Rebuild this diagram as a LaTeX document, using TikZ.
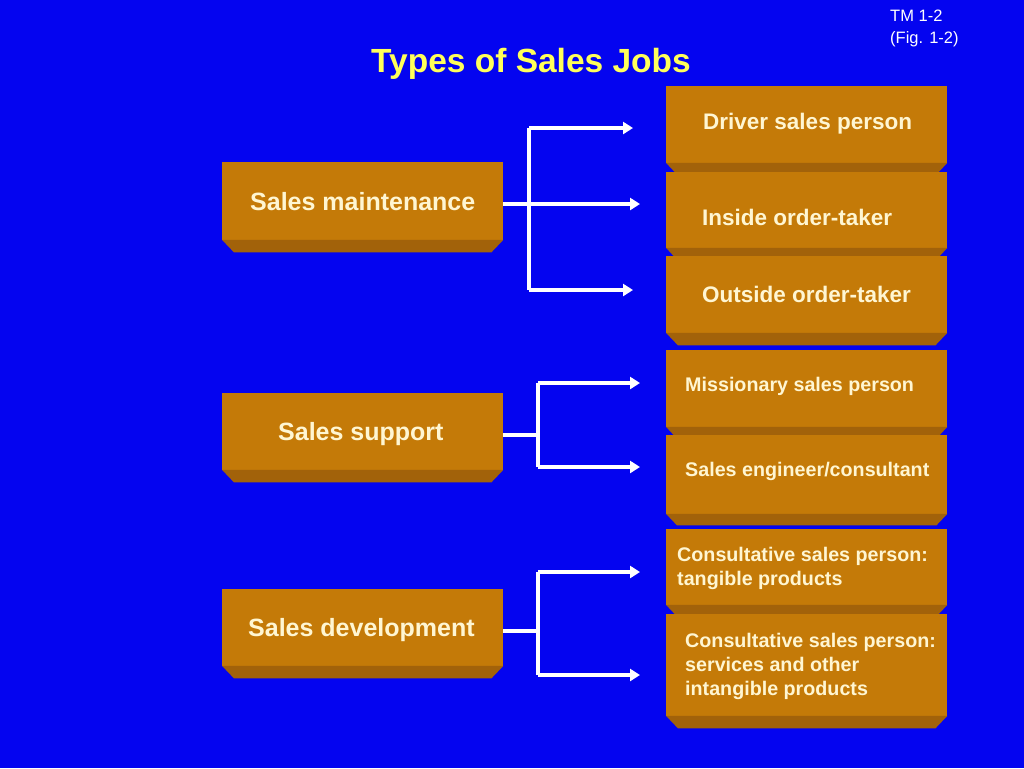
\documentclass[tikz,border=0pt]{standalone}
\usepackage{fontspec}
\setmainfont{Liberation Sans}
\usetikzlibrary{arrows.meta,calc}
\definecolor{bg}{RGB}{4,4,240}
\definecolor{face}{RGB}{196,122,8}
\definecolor{bevel}{RGB}{162,98,10}
\definecolor{ttl}{RGB}{255,255,90}
\definecolor{cream}{RGB}{255,246,210}
\tikzset{
  boxface/.style={fill=face, draw=none, inner sep=0pt, anchor=north west},
  lbl/.style={text=cream, font=\bfseries, inner sep=0pt, anchor=west, align=left},
  conn/.style={draw=white, line width=4pt},
  arr/.style={draw=white, line width=4pt, -{Triangle[length=10pt,width=12pt]}},
}
% \bbox{name}{x}{ytop}{width}{faceheight}{bevel}
\newcommand{\bbox}[6]{%
  \node[boxface, minimum width=#4pt, minimum height=#5pt] (#1) at (#2,#3) {};
  \fill[bevel] ($(#1.south west)+(0,-0.6)$) -- ($(#1.south east)+(0,-0.6)$) -- ($(#1.south east)+(-#6,#6)$) -- ($(#1.south west)+(#6,#6)$) -- cycle;
}
\begin{document}
\begin{tikzpicture}[x=1pt,y=-1pt]
\fill[bg] (0,0) rectangle (1024,768);
\useasboundingbox (0,0) rectangle (1024,768);

\node[text=white, font=\fontsize{16.5}{22}\selectfont, anchor=north west, inner sep=0pt, align=left] (tm) at (890,10) {TM 1-2\\(Fig. 1-2)};
\node[text=ttl, font=\fontsize{33.5}{40}\selectfont\bfseries, inner sep=0pt] (title) at (531,64) {Types of Sales Jobs};

% left boxes
\bbox{sm}{222}{162}{281}{78}{12}
\bbox{ss}{222}{393}{281}{77}{12}
\bbox{sd}{222}{589}{281}{77}{12}

% right boxes
\bbox{r1}{666}{86}{281}{77}{9}
\bbox{r2}{666}{172}{281}{76}{8}
\bbox{r3}{666}{256}{281}{77}{12}
\bbox{r4}{666}{350}{281}{77}{8}
\bbox{r5}{666}{435}{281}{79}{11}
\bbox{r6}{666}{529}{281}{76}{9}
\bbox{r7}{666}{614}{281}{102}{12}

% left labels
\node[lbl, font=\fontsize{25}{30}\selectfont\bfseries] (tsm) at (250,202) {Sales maintenance};
\node[lbl, font=\fontsize{25}{30}\selectfont\bfseries] (tss) at (278,434) {Sales support};
\node[lbl, font=\fontsize{25}{30}\selectfont\bfseries] (tsd) at (248,630) {Sales development};

% right labels
\node[lbl, font=\fontsize{22.5}{27}\selectfont\bfseries] (t1) at (703,124) {Driver sales person};
\node[lbl, font=\fontsize{22.5}{27}\selectfont\bfseries] (t2) at (702,217) {Inside order-taker};
\node[lbl, font=\fontsize{22.5}{27}\selectfont\bfseries] (t3) at (702,294) {Outside order-taker};
\node[lbl, font=\fontsize{19.7}{24}\selectfont\bfseries] (t4) at (685,386) {Missionary sales person};
\node[lbl, font=\fontsize{19.7}{24}\selectfont\bfseries] (t5) at (685,471) {Sales engineer/consultant};
\node[lbl, font=\fontsize{19.7}{24}\selectfont\bfseries] (t6) at (677,568) {Consultative sales person:\\tangible products};
\node[lbl, font=\fontsize{19.7}{24}\selectfont\bfseries] (t7) at (685,666) {Consultative sales person:\\services and other\\intangible products};

% connectors: maintenance
\coordinate (m1) at (529,128);
\coordinate (m3) at (529,290);
\coordinate (e1) at (633,128);
\coordinate (e2) at (640,204);
\coordinate (e3) at (633,290);
\draw[conn] (m1) -- (m3);
\draw[arr] (sm.east |- e2) -- (e2);
\draw[arr] (m1) -- (e1);
\draw[arr] (m3) -- (e3);

% support
\coordinate (s1) at (538,383);
\coordinate (s2) at (538,467);
\coordinate (sj) at (538,435);
\coordinate (f1) at (640,383);
\coordinate (f2) at (640,467);
\draw[conn] (s1) -- (s2);
\draw[conn] (ss.east |- sj) -- (sj);
\draw[arr] (s1) -- (f1);
\draw[arr] (s2) -- (f2);

% development
\coordinate (d1) at (538,572);
\coordinate (d2) at (538,675);
\coordinate (dj) at (538,631);
\coordinate (g1) at (640,572);
\coordinate (g2) at (640,675);
\draw[conn] (d1) -- (d2);
\draw[conn] (sd.east |- dj) -- (dj);
\draw[arr] (d1) -- (g1);
\draw[arr] (d2) -- (g2);
\end{tikzpicture}
\end{document}
